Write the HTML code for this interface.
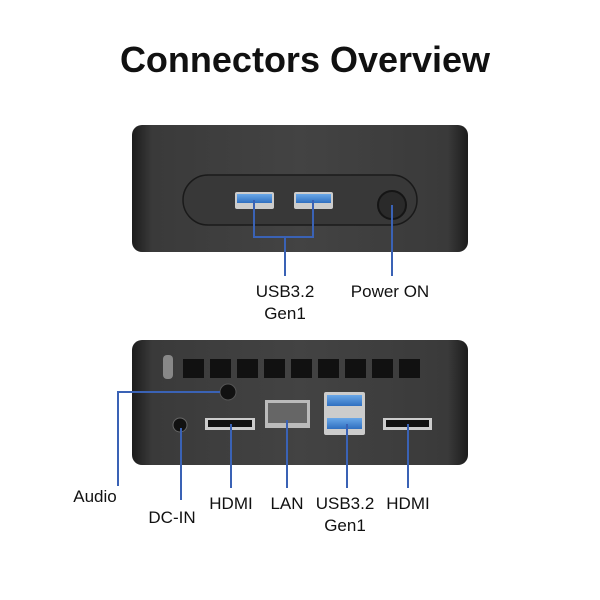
<!DOCTYPE html>
<html><head><meta charset="utf-8"><style>
body{margin:0;background:#fff;width:600px;height:600px;overflow:hidden}
svg{display:block}
text{font-family:"Liberation Sans",sans-serif;fill:#111}
</style></head><body>
<svg width="600" height="600" viewBox="0 0 600 600">
<defs>
<linearGradient id="bd" x1="0" y1="0" x2="1" y2="0">
<stop offset="0" stop-color="#1c1c1c"/><stop offset="0.06" stop-color="#3a3a3a"/><stop offset="0.5" stop-color="#434343"/><stop offset="0.94" stop-color="#3a3a3a"/><stop offset="1" stop-color="#1c1c1c"/>
</linearGradient>
<linearGradient id="usb" x1="0" y1="0" x2="0" y2="1"><stop offset="0" stop-color="#6aa8e8"/><stop offset="1" stop-color="#2f6fc0"/></linearGradient>
</defs>
<text x="305" y="72" font-size="36" font-weight="bold" text-anchor="middle" fill="#222">Connectors Overview</text>

<!-- top device -->
<rect x="132" y="125" width="336" height="127" rx="10" fill="url(#bd)"/>
<rect x="183" y="175" width="234" height="50" rx="25" fill="#383838" stroke="#1a1a1a" stroke-width="1.5"/>
<rect x="235" y="192" width="39" height="17" rx="2" fill="#ccc"/><rect x="237" y="194" width="35" height="9" fill="url(#usb)"/>
<rect x="294" y="192" width="39" height="17" rx="2" fill="#ccc"/><rect x="296" y="194" width="35" height="9" fill="url(#usb)"/>
<circle cx="392" cy="205" r="14" fill="#2a2a2a" stroke="#151515" stroke-width="2"/>
<g stroke="#3a62b5" stroke-width="2" fill="none">
<path d="M254 200V237H313V200M285 237V276"/><path d="M392 205V276"/>
</g>
<text x="285" y="297" font-size="17" text-anchor="middle">USB3.2</text>
<text x="285" y="319" font-size="17" text-anchor="middle">Gen1</text>
<text x="390" y="297" font-size="17" text-anchor="middle">Power ON</text>

<!-- bottom device -->
<rect x="132" y="340" width="336" height="125" rx="10" fill="url(#bd)"/>
<rect x="163" y="355" width="10" height="24" rx="4" fill="#888"/>
<g fill="#111">
<rect x="183" y="359" width="21" height="19"/><rect x="210" y="359" width="21" height="19"/><rect x="237" y="359" width="21" height="19"/><rect x="264" y="359" width="21" height="19"/><rect x="291" y="359" width="21" height="19"/><rect x="318" y="359" width="21" height="19"/><rect x="345" y="359" width="21" height="19"/><rect x="372" y="359" width="21" height="19"/><rect x="399" y="359" width="21" height="19"/>
</g>
<circle cx="228" cy="392" r="8" fill="#111" stroke="#555"/>
<circle cx="180" cy="425" r="7" fill="#111" stroke="#666"/>
<path d="M205 418h50v12h-50z" fill="#ccc"/><rect x="208" y="420" width="44" height="7" fill="#111"/>
<rect x="265" y="400" width="45" height="28" fill="#bbb"/><rect x="268" y="403" width="39" height="20" fill="#666"/>
<rect x="324" y="392" width="41" height="43" rx="2" fill="#ccc"/><rect x="327" y="395" width="35" height="11" fill="url(#usb)"/><rect x="327" y="418" width="35" height="11" fill="url(#usb)"/>
<path d="M383 418h49v12h-49z" fill="#ccc"/><rect x="386" y="420" width="43" height="7" fill="#111"/>
<g stroke="#3a62b5" stroke-width="2" fill="none">
<path d="M220 392H118V486"/><path d="M181 428V500"/><path d="M231 424V488"/><path d="M287 420V488"/><path d="M347 424V488"/><path d="M408 424V488"/>
</g>
<text x="95" y="502" font-size="17" text-anchor="middle">Audio</text>
<text x="172" y="523" font-size="17" text-anchor="middle">DC-IN</text>
<text x="231" y="509" font-size="17" text-anchor="middle">HDMI</text>
<text x="287" y="509" font-size="17" text-anchor="middle">LAN</text>
<text x="345" y="509" font-size="17" text-anchor="middle">USB3.2</text>
<text x="345" y="531" font-size="17" text-anchor="middle">Gen1</text>
<text x="408" y="509" font-size="17" text-anchor="middle">HDMI</text>
</svg>
</body></html>
